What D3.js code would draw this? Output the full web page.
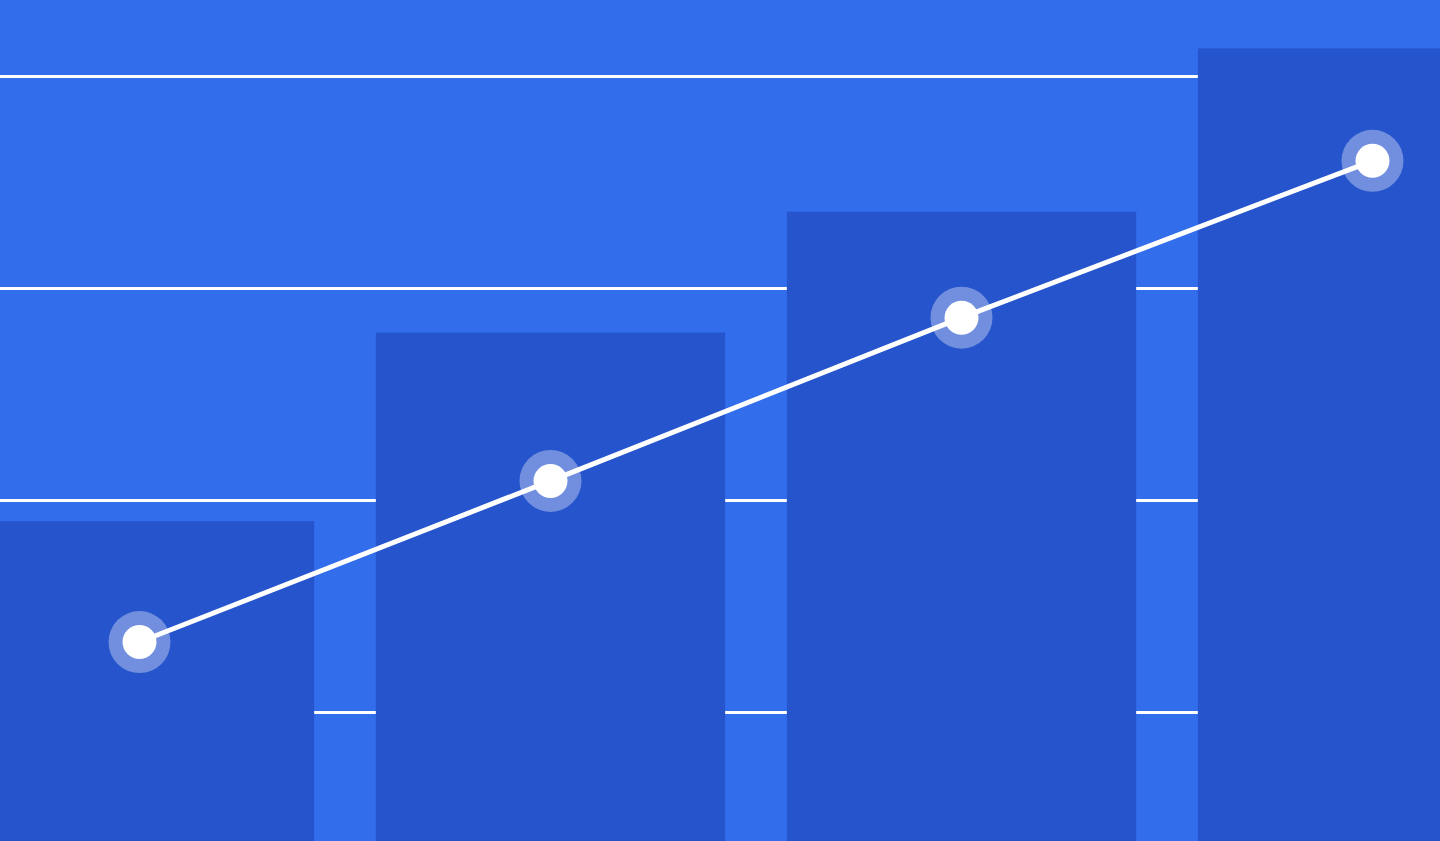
<!DOCTYPE html>
<html>
<head>
<meta charset="utf-8">
<script src="https://cdn.jsdelivr.net/npm/d3@7"></script>
<style>
  html, body { margin: 0; padding: 0; overflow: hidden; background: #326eeb; }
  svg { display: block; }
</style>
</head>
<body>
<svg id="chart"></svg>
<script>
// data
const categories = ['Q1', 'Q2', 'Q3', 'Q4'];
const barValues = [19.0, 27.9, 33.6, 41.3];
const lineValues = [13.3, 20.9, 28.6, 36.0];
const gridTicks = [10, 20, 30, 40];

const [sizeX, sizeY] = [1440, 841];
const svg = d3.select('svg#chart')
  .attr('width', sizeX)
  .attr('height', sizeY);

svg.append('rect')
  .attr('width', sizeX)
  .attr('height', sizeY)
  .style('fill', '#326eeb');

// bars run off both edges of the frame
const x = d3.scaleBand()
  .domain(categories)
  .range([-66, 1578])
  .paddingInner(0.15)
  .paddingOuter(0.075);

const y = d3.scaleLinear()
  .domain([0, 40])
  .range([924, 76]);

// horizontal grid, behind the bars
const yAxis = d3.axisLeft(y)
  .tickValues(gridTicks)
  .tickSize(-sizeX)
  .tickFormat('');
svg.append('g')
  .attr('class', 'grid')
  .call(yAxis)
  .call(g => g.select('.domain').remove())
  .selectAll('.tick line')
  .style('stroke', '#ffffff')
  .style('stroke-width', 3);

svg.selectAll('rect.bar')
  .data(barValues)
  .enter()
  .append('rect')
  .attr('class', 'bar')
  .attr('x', (d, i) => x(categories[i]))
  .attr('width', x.bandwidth())
  .attr('y', d => y(d))
  .attr('height', d => y(0) - y(d))
  .style('fill', '#2554cc');

const cx = (d, i) => x(categories[i]) + x.bandwidth() / 2;

const line = d3.line()
  .x(cx)
  .y(d => y(d));

svg.append('path')
  .datum(lineValues)
  .attr('d', line)
  .style('fill', 'none')
  .style('stroke', '#ffffff')
  .style('stroke-width', 5);

svg.selectAll('circle.halo')
  .data(lineValues)
  .enter()
  .append('circle')
  .attr('class', 'halo')
  .attr('cx', cx)
  .attr('cy', d => y(d))
  .attr('r', 31)
  .style('fill', '#ffffff')
  .style('fill-opacity', 0.35);

svg.selectAll('circle.dot')
  .data(lineValues)
  .enter()
  .append('circle')
  .attr('class', 'dot')
  .attr('cx', cx)
  .attr('cy', d => y(d))
  .attr('r', 17)
  .style('fill', '#ffffff');
</script>
</body>
</html>
